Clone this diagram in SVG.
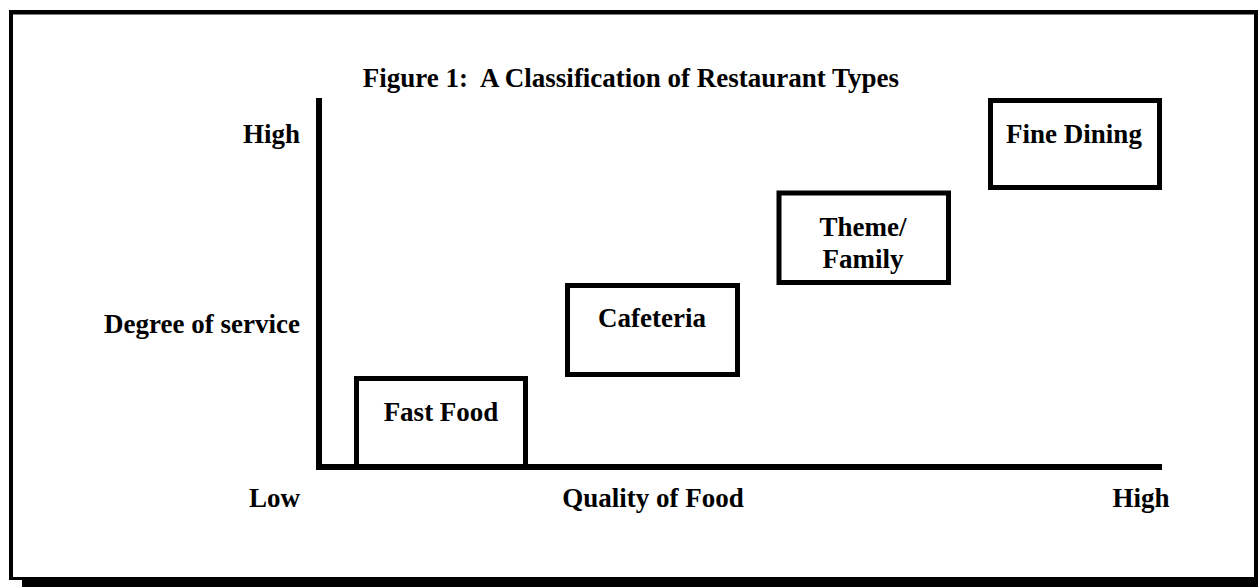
<svg xmlns="http://www.w3.org/2000/svg" width="1258" height="587" viewBox="0 0 1258 587">
<style>
text{font-family:"Liberation Serif","Times New Roman",serif;font-weight:bold;font-size:27px;fill:#000}
.box{fill:#fff;stroke:#000;stroke-width:5}
.mid{text-anchor:middle}
.end{text-anchor:end}
</style>
<rect x="0" y="0" width="1258" height="587" fill="#fff"/>
<g id="frame" fill="#000">
<rect x="9" y="10" width="1249" height="4.5"/>
<rect x="9" y="10" width="4" height="570"/>
<rect x="1254" y="10" width="4" height="577"/>
<rect x="9" y="577" width="14" height="3"/>
<rect x="22" y="577" width="1236" height="10"/>
</g>
<text id="title" class="mid" x="631" y="87" xml:space="preserve">Figure 1:  A Classification of Restaurant Types</text>
<g id="axes" fill="#000">
<rect x="316" y="98" width="6" height="372"/>
<rect x="316" y="464" width="846" height="6"/>
</g>
<g id="labels">
<text class="end" x="300" y="143">High</text>
<text class="end" x="300" y="333">Degree of service</text>
<text class="end" x="300" y="507">Low</text>
<text class="mid" x="653" y="507">Quality of Food</text>
<text class="mid" x="1141" y="507">High</text>
</g>
<g id="fast-food">
<rect class="box" x="356.5" y="378.5" width="169" height="88"/>
<text class="mid" x="441" y="421">Fast Food</text>
</g>
<g id="cafeteria">
<rect class="box" x="567.5" y="285.5" width="170" height="89"/>
<text class="mid" x="652" y="327">Cafeteria</text>
</g>
<g id="theme-family">
<rect class="box" x="779" y="193" width="169.5" height="89.5"/>
<text class="mid" x="863" y="236">Theme/</text>
<text class="mid" x="863" y="268">Family</text>
</g>
<g id="fine-dining">
<rect class="box" x="990.5" y="100.5" width="169" height="87"/>
<text class="mid" x="1074" y="143">Fine Dining</text>
</g>
<g id="connectors"></g>
</svg>
